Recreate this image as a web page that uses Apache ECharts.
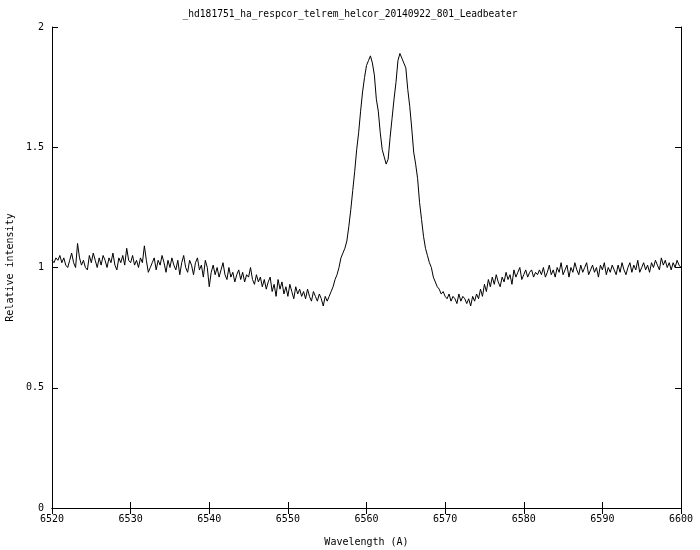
<!DOCTYPE html>
<html>
<head>
<meta charset="utf-8">
<script src="https://cdn.jsdelivr.net/npm/echarts@6/dist/echarts.min.js"></script>
<style>html,body{margin:0;padding:0;background:#fff}#c{width:700px;height:550px}</style>
</head>
<body>
<div id="c"></div>
<script>
var titleText = "_hd181751_ha_respcor_telrem_helcor_20140922_801_Leadbeater";
var xTicks = [6520, 6530, 6540, 6550, 6560, 6570, 6580, 6590, 6600];
var yTicks = [0, 0.5, 1, 1.5, 2];
var startWavelength = 6520;
var stepWavelength = 0.25;

// 6520.00 - 6555.75 A
var continuumBlue = [
1.03,1.02,1.04,1.03, 1.05,1.02,1.04,1.01, 1.00,1.03,1.06,1.02, 1.00,1.10,1.04,1.01,
1.03,1.00,0.99,1.05, 1.02,1.06,1.03,1.00, 1.04,1.01,1.05,1.03, 1.00,1.04,1.02,1.06,
1.01,0.99,1.04,1.02, 1.05,1.01,1.08,1.03, 1.02,1.05,1.01,1.03, 1.00,1.04,1.02,1.09,
1.03,0.98,1.00,1.02, 1.04,0.99,1.03,1.01, 1.05,1.02,0.98,1.03, 1.00,1.04,1.01,0.99,
1.03,0.97,1.02,1.05, 1.00,0.98,1.03,1.01, 0.97,1.02,1.04,0.99, 1.01,0.96,1.03,1.00,
0.92,0.98,1.01,0.97, 1.00,0.96,0.99,1.02, 0.97,0.95,1.00,0.96, 0.98,0.94,0.97,0.99,
0.95,0.98,0.94,0.97, 0.96,1.00,0.95,0.93, 0.97,0.94,0.96,0.92, 0.95,0.91,0.94,0.96,
0.90,0.93,0.88,0.95, 0.91,0.94,0.89,0.92, 0.88,0.93,0.90,0.87, 0.92,0.89,0.91,0.88,
0.90,0.87,0.91,0.88, 0.86,0.90,0.88,0.86, 0.89,0.87,0.84,0.88, 0.86,0.88,0.90,0.92
];
// 6556.00 - 6567.75 A (H-alpha double-peaked emission)
var emissionCore = [
0.95,0.97,1.00,1.04, 1.06,1.08,1.11,1.17, 1.24,1.32,1.40,1.49, 1.56,1.65,1.73,1.79,
1.84,1.86,1.88,1.85, 1.80,1.70,1.65,1.56, 1.49,1.46,1.43,1.45, 1.54,1.62,1.70,1.77,
1.86,1.89,1.87,1.85, 1.83,1.74,1.67,1.58, 1.48,1.43,1.37,1.27, 1.20,1.13,1.08,1.05
];
// 6568.00 - 6600.00 A
var continuumRed = [
1.02,1.00,0.96,0.94, 0.92,0.91,0.89,0.90, 0.88,0.87,0.89,0.86, 0.88,0.87,0.85,0.89,
0.86,0.88,0.87,0.85, 0.87,0.84,0.88,0.86, 0.89,0.87,0.91,0.88, 0.93,0.90,0.95,0.92,
0.96,0.93,0.97,0.94, 0.92,0.96,0.94,0.98, 0.95,0.97,0.93,0.99, 0.96,0.98,1.00,0.95,
0.97,0.99,0.96,0.98, 0.99,0.96,0.98,0.97, 0.99,0.97,1.00,0.96, 0.98,1.01,0.97,0.99,
0.96,1.00,0.98,1.02, 0.97,0.99,1.01,0.96, 1.00,0.98,1.02,0.99, 0.97,1.01,0.98,1.00,
1.02,0.97,0.99,1.01, 0.98,1.00,0.96,1.01, 0.99,1.02,0.97,1.00, 0.98,1.01,0.99,0.97,
1.01,0.98,1.02,0.99, 0.97,1.00,1.02,0.98, 1.01,0.99,1.03,0.98, 1.00,1.02,0.99,1.01,
0.98,1.02,1.00,1.03, 1.01,0.99,1.04,1.01, 1.03,1.00,1.02,0.99, 1.02,1.00,1.03,1.01,
1.00
];

var intensity = continuumBlue.concat(emissionCore, continuumRed);
var points = intensity.map(function (v, i) {
  return [startWavelength + i * stepWavelength, v];
});

var font = "DejaVu Sans Mono";
var chart = echarts.init(document.getElementById('c'), null, {renderer: 'canvas'});
chart.setOption({
  animation: false,
  backgroundColor: '#fff',
  title: {
    text: titleText,
    left: 'center',
    top: 4,
    textStyle: {fontFamily: font, fontSize: 9.6, fontWeight: 'normal', color: '#000'}
  },
  grid: {left: 52, right: 19, top: 27, bottom: 42, containLabel: false, outerBoundsMode: 'none'},
  xAxis: [{
    type: 'value', position: 'bottom',
    min: xTicks[0], max: xTicks[xTicks.length - 1], interval: 10,
    name: 'Wavelength (A)', nameLocation: 'middle', nameGap: 29,
    nameTextStyle: {fontFamily: font, fontSize: 10, color: '#000'},
    axisLine: {lineStyle: {color: '#000', width: 1}},
    axisTick: {inside: true, length: 6, lineStyle: {color: '#000'}},
    axisLabel: {fontFamily: font, fontSize: 10, color: '#000', margin: 6,
      formatter: function (v) { return String(v); }},
    splitLine: {show: false}
  }, {
    type: 'value', position: 'top',
    min: xTicks[0], max: xTicks[xTicks.length - 1], interval: 10,
    axisLine: {lineStyle: {color: '#000', width: 1}},
    axisTick: {inside: true, length: 6, lineStyle: {color: '#000'}},
    axisLabel: {show: false},
    splitLine: {show: false}
  }],
  yAxis: [{
    type: 'value', position: 'left',
    min: yTicks[0], max: yTicks[yTicks.length - 1], interval: 0.5,
    name: 'Relative intensity', nameLocation: 'middle', nameGap: 36,
    nameTextStyle: {fontFamily: font, fontSize: 10, color: '#000'},
    axisLine: {show: true, lineStyle: {color: '#000', width: 1}},
    axisTick: {show: true, inside: true, length: 6, lineStyle: {color: '#000'}},
    axisLabel: {fontFamily: font, fontSize: 10, color: '#000', margin: 8},
    splitLine: {show: false}
  }, {
    type: 'value', position: 'right',
    min: yTicks[0], max: yTicks[yTicks.length - 1], interval: 0.5,
    axisLine: {show: true, lineStyle: {color: '#000', width: 1}},
    axisTick: {show: true, inside: true, length: 6, lineStyle: {color: '#000'}},
    axisLabel: {show: false},
    splitLine: {show: false}
  }],
  series: [{
    type: 'line',
    xAxisIndex: 0, yAxisIndex: 0,
    data: points,
    showSymbol: false,
    symbol: 'none',
    lineStyle: {color: '#000', width: 1},
    silent: true
  }]
});
</script>
</body>
</html>
